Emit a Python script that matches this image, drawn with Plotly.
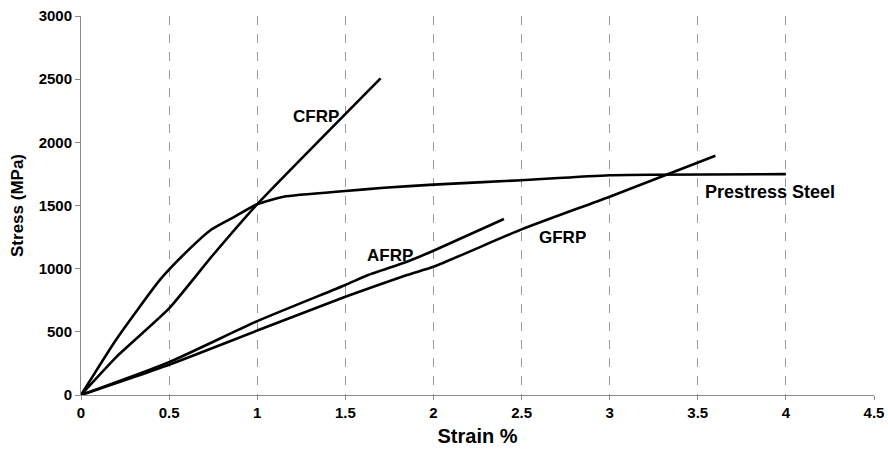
import plotly.graph_objects as go

# Data (strain %, stress MPa)
steel_x = [0, 0.2, 0.45, 0.6, 0.74, 0.87, 1.0, 1.15, 1.5, 1.72, 2.0, 2.5, 3.0, 4.0]
steel_y = [0, 440, 915, 1135, 1310, 1410, 1510, 1570, 1615, 1640, 1665, 1700, 1740, 1748]

cfrp_x = [0, 0.2, 0.5, 0.75, 1.0, 1.7]
cfrp_y = [0, 300, 685, 1110, 1510, 2506]

afrp_x = [0, 0.5, 1.0, 1.5, 1.63, 1.85, 2.0, 2.4]
afrp_y = [0, 260, 585, 871, 950, 1055, 1142, 1393]

gfrp_x = [0, 0.5, 1.0, 1.5, 1.85, 2.0, 2.5, 3.0, 3.6]
gfrp_y = [0, 240, 510, 778, 950, 1015, 1311, 1570, 1894]

labels = ["CFRP", "AFRP", "GFRP", "Prestress Steel"]
label_x = [1.334, 1.752, 2.733, 3.91]
label_y = [2203, 1108, 1245, 1604]
label_size = [17, 17, 17, 18]

x_ticks = [0, 0.5, 1, 1.5, 2, 2.5, 3, 3.5, 4, 4.5]
y_ticks = [0, 500, 1000, 1500, 2000, 2500, 3000]

FONT = "Liberation Sans, Arial, sans-serif"

fig = go.Figure()
for xs, ys in [(steel_x, steel_y), (cfrp_x, cfrp_y), (afrp_x, afrp_y), (gfrp_x, gfrp_y)]:
    fig.add_trace(go.Scatter(x=xs, y=ys, mode="lines",
                             line=dict(color="black", width=2.6, shape="spline", smoothing=0.5),
                             showlegend=False, hoverinfo="skip"))

for t, x, y, s in zip(labels, label_x, label_y, label_size):
    fig.add_annotation(x=x, y=y, text="<b>%s</b>" % t, showarrow=False,
                       font=dict(family=FONT, size=s, color="black"),
                       xanchor="center", yanchor="middle")

fig.update_layout(
    width=888, height=453,
    margin=dict(l=81, r=14, t=16, b=58, autoexpand=False),
    paper_bgcolor="white", plot_bgcolor="white",
    font=dict(family=FONT, color="black"),
    showlegend=False,
)
fig.update_xaxes(
    range=[0, 4.5], tickvals=x_ticks,
    ticktext=["<b>%g</b>" % v for v in x_ticks],
    tickfont=dict(size=15, family=FONT),
    showgrid=True, gridcolor="#9a9a9a", griddash="dash", gridwidth=1,
    showline=True, linecolor="#8a8a8a", linewidth=1,
    ticks="outside", ticklen=4, tickcolor="#8a8a8a",
    zeroline=False, automargin=False,
    title=dict(text="<b>Strain %</b>", font=dict(size=20, family=FONT), standoff=8),
)
fig.update_yaxes(
    range=[0, 3000], tickvals=y_ticks,
    ticktext=["<b>%d</b>" % v for v in y_ticks],
    tickfont=dict(size=15, family=FONT),
    showgrid=False,
    showline=True, linecolor="#8a8a8a", linewidth=1,
    ticks="outside", ticklen=5, tickcolor="#8a8a8a",
    zeroline=False, automargin=False,
    title=dict(text="<b>Stress (MPa)</b>", font=dict(size=17, family=FONT), standoff=10),
)

fig.write_html("out.html")
